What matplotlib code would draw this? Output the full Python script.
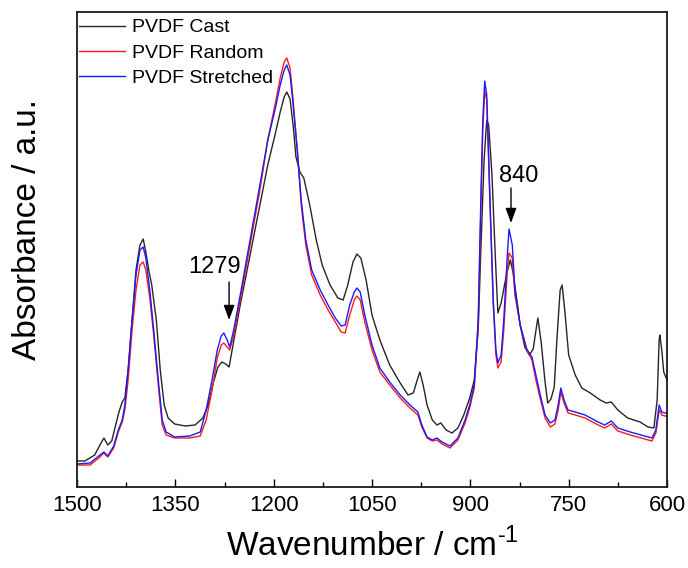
import matplotlib
matplotlib.use("Agg")
import matplotlib.pyplot as plt
from matplotlib.ticker import MultipleLocator

plt.rcParams['font.family'] = ['Liberation Sans', 'DejaVu Sans']
plt.rcParams['mathtext.fontset'] = 'custom'
plt.rcParams['mathtext.rm'] = 'Liberation Sans'

# ---- data (absorbance in arbitrary units) ----
wn_cast = [1500, 1488, 1473, 1465, 1459, 1453, 1447, 1441, 1436, 1431, 1427, 1422, 1416, 1410, 1404,
           1399, 1395, 1390, 1386, 1379, 1373, 1367, 1361, 1351, 1335, 1320, 1308, 1300, 1293, 1285,
           1279, 1273, 1268, 1262, 1251, 1236, 1221, 1209, 1198, 1190, 1184, 1180, 1175, 1170, 1166,
           1160, 1154, 1145, 1135, 1126, 1114, 1102, 1094, 1087, 1079, 1073, 1067, 1059, 1050, 1038,
           1023, 1007, 995, 987, 981, 977, 972, 966, 958, 951, 945, 937, 928, 919, 910,
           901, 894, 888, 884, 879, 875, 872, 867, 862, 858, 853, 849, 844, 839, 835,
           829, 824, 817, 810, 804, 801, 797, 792, 786, 782, 777, 772, 768, 763, 760,
           756, 750, 740, 730, 717, 702, 693, 685, 675, 660, 641, 629, 620, 615, 612,
           611, 608, 605, 600]
abs_cast = [0.26, 0.26, 0.32, 0.42, 0.49, 0.42, 0.46, 0.62, 0.75, 0.85, 0.89, 1.17, 1.67, 2.17, 2.42,
            2.48, 2.35, 2.15, 2.02, 1.67, 1.17, 0.82, 0.69, 0.63, 0.61, 0.62, 0.69, 0.82, 1.02, 1.20,
            1.25, 1.23, 1.20, 1.42, 1.82, 2.32, 2.82, 3.22, 3.52, 3.75, 3.90, 3.95, 3.88, 3.60, 3.30,
            3.15, 3.09, 2.82, 2.47, 2.22, 2.02, 1.89, 1.87, 2.02, 2.25, 2.33, 2.29, 2.07, 1.72, 1.47,
            1.22, 1.04, 0.92, 0.94, 1.07, 1.15, 1.02, 0.82, 0.67, 0.62, 0.64, 0.57, 0.54, 0.59, 0.72,
            0.89, 1.07, 1.57, 2.37, 3.27, 3.67, 3.62, 3.12, 2.32, 1.74, 1.84, 1.98, 2.15, 2.27, 2.15,
            1.87, 1.62, 1.40, 1.32, 1.38, 1.52, 1.69, 1.45, 1.05, 0.84, 0.88, 1.00, 1.47, 1.97, 2.02,
            1.77, 1.32, 1.12, 0.99, 0.94, 0.87, 0.84, 0.85, 0.77, 0.69, 0.65, 0.60, 0.59, 0.87, 1.47,
            1.52, 1.37, 1.15, 1.07]

wn_rand = [1500, 1480, 1465, 1459, 1453, 1444, 1437, 1431, 1427, 1422, 1416, 1410, 1404, 1399, 1395,
           1389, 1383, 1376, 1370, 1364, 1351, 1328, 1312, 1303, 1294, 1286, 1280, 1276, 1271, 1267,
           1261, 1251, 1236, 1221, 1209, 1198, 1190, 1184, 1180, 1175, 1171, 1164, 1158, 1151, 1142,
           1129, 1117, 1106, 1097, 1091, 1084, 1077, 1073, 1068, 1061, 1050, 1038, 1023, 1007, 992,
           980, 974, 966, 958, 951, 943, 931, 919, 908, 901, 894, 888, 884, 881, 878,
           875, 870, 865, 861, 858, 853, 849, 844, 841, 836, 832, 824, 814, 806, 800,
           794, 786, 778, 771, 766, 762, 757, 751, 740, 725, 705, 695, 685, 675, 656,
           634, 623, 617, 612, 608, 603, 600]
abs_rand = [0.22, 0.22, 0.30, 0.34, 0.30, 0.39, 0.55, 0.65, 0.77, 1.07, 1.57, 1.97, 2.22, 2.25, 2.17,
            1.89, 1.52, 1.02, 0.62, 0.52, 0.49, 0.49, 0.51, 0.67, 0.97, 1.29, 1.42, 1.44, 1.40, 1.37,
            1.52, 1.87, 2.42, 2.97, 3.47, 3.82, 4.09, 4.25, 4.29, 4.19, 3.92, 3.37, 2.82, 2.42, 2.12,
            1.92, 1.77, 1.65, 1.55, 1.54, 1.72, 1.87, 1.91, 1.87, 1.65, 1.37, 1.15, 1.02, 0.89, 0.79,
            0.72, 0.60, 0.49, 0.46, 0.47, 0.43, 0.39, 0.47, 0.64, 0.79, 0.99, 1.62, 2.77, 3.57, 3.96,
            3.87, 2.82, 1.82, 1.32, 1.19, 1.25, 1.57, 2.12, 2.34, 2.29, 1.92, 1.62, 1.37, 1.27, 1.07,
            0.90, 0.69, 0.60, 0.63, 0.77, 0.95, 0.84, 0.74, 0.72, 0.69, 0.62, 0.59, 0.63, 0.56, 0.52,
            0.48, 0.46, 0.54, 0.77, 0.72, 0.71, 0.71]

wn_str = [1500, 1480, 1465, 1459, 1453, 1444, 1437, 1431, 1427, 1422, 1416, 1410, 1404, 1399, 1395,
          1389, 1383, 1376, 1370, 1364, 1351, 1328, 1312, 1303, 1294, 1286, 1280, 1276, 1271, 1267,
          1261, 1251, 1236, 1221, 1209, 1198, 1190, 1184, 1180, 1175, 1171, 1164, 1158, 1151, 1142,
          1129, 1117, 1106, 1097, 1091, 1084, 1077, 1073, 1068, 1061, 1050, 1038, 1023, 1007, 992,
          980, 974, 966, 958, 951, 943, 931, 919, 908, 901, 894, 888, 884, 881, 878,
          875, 870, 865, 861, 858, 853, 849, 844, 841, 836, 832, 824, 814, 806, 800,
          794, 786, 778, 771, 766, 762, 757, 751, 740, 725, 705, 695, 685, 675, 656,
          634, 623, 617, 612, 608, 603, 600]
abs_str = [0.23, 0.24, 0.32, 0.35, 0.31, 0.41, 0.57, 0.67, 0.82, 1.17, 1.67, 2.12, 2.37, 2.40, 2.29,
           1.97, 1.57, 1.07, 0.67, 0.55, 0.50, 0.51, 0.55, 0.77, 1.07, 1.37, 1.51, 1.54, 1.47, 1.40,
           1.57, 1.92, 2.47, 3.02, 3.47, 3.77, 4.02, 4.17, 4.22, 4.12, 3.87, 3.37, 2.87, 2.47, 2.17,
           1.97, 1.82, 1.69, 1.61, 1.62, 1.82, 1.95, 1.99, 1.95, 1.72, 1.42, 1.19, 1.05, 0.92, 0.82,
           0.75, 0.62, 0.50, 0.47, 0.49, 0.45, 0.41, 0.49, 0.67, 0.82, 1.02, 1.67, 2.87, 3.67, 4.06,
           3.92, 2.87, 1.87, 1.37, 1.24, 1.32, 1.67, 2.27, 2.58, 2.42, 1.97, 1.62, 1.38, 1.30, 1.12,
           0.94, 0.72, 0.64, 0.67, 0.82, 0.99, 0.87, 0.77, 0.75, 0.72, 0.65, 0.62, 0.66, 0.59, 0.55,
           0.51, 0.49, 0.57, 0.82, 0.75, 0.74, 0.74]

series_names = ["PVDF Cast", "PVDF Random", "PVDF Stretched"]
series_colors = ["#262626", "#ff1a1a", "#1a1aff"]

ann_labels = ["1279", "840"]
ann_tip = [(1268, 1.67), (838, 2.64)]
ann_tail = [(1268, 2.05), (838, 2.99)]
ann_text = [(1290, 2.20), (826, 3.11)]

# ---- figure ----
fig = plt.figure(figsize=(6.88, 5.68), dpi=100)
ax = fig.add_axes([77/688, 1-487/568, 590/688, 475/568])

for wn, ab, name, c in zip([wn_cast, wn_rand, wn_str], [abs_cast, abs_rand, abs_str],
                           series_names, series_colors):
    ax.plot(wn, ab, color=c, lw=1.0, label=name)

ax.set_xlim(1500, 600)
ax.set_ylim(0, 4.75)
ax.xaxis.set_major_locator(MultipleLocator(150))
ax.xaxis.set_minor_locator(MultipleLocator(75))
ax.tick_params(axis='x', which='major', direction='in', length=6, width=1.0, labelsize=16, pad=6,
               top=False)
ax.tick_params(axis='x', which='minor', direction='in', length=3.5, width=1.0, top=False)
ax.set_yticks([])
for s in ax.spines.values():
    s.set_linewidth(1.3)
    s.set_color('#1a1a1a')

ax.set_xlabel(r"Wavenumber / cm$^{\text{-1}}$", fontsize=24, labelpad=8)
ax.set_ylabel("Absorbance / a.u.", fontsize=24)
ax.yaxis.set_label_coords(-0.058, 0.543)

for lab, tip, tail, tx in zip(ann_labels, ann_tip, ann_tail, ann_text):
    ax.annotate('', xy=tip, xytext=tail,
                arrowprops=dict(arrowstyle='-|>,head_length=0.6,head_width=0.22',
                                color='black', lw=1.0, mutation_scale=15,
                                shrinkA=0, shrinkB=0))
    ax.text(tx[0], tx[1], lab, fontsize=17, ha='center', va='center')

leg = ax.legend(loc='upper left', bbox_to_anchor=(-0.006, 0.998), frameon=False, fontsize=14,
                handlelength=2.35, handletextpad=0.35, labelspacing=0.40,
                borderaxespad=0.0, borderpad=0.3)

fig.savefig("out.png", dpi=100)
